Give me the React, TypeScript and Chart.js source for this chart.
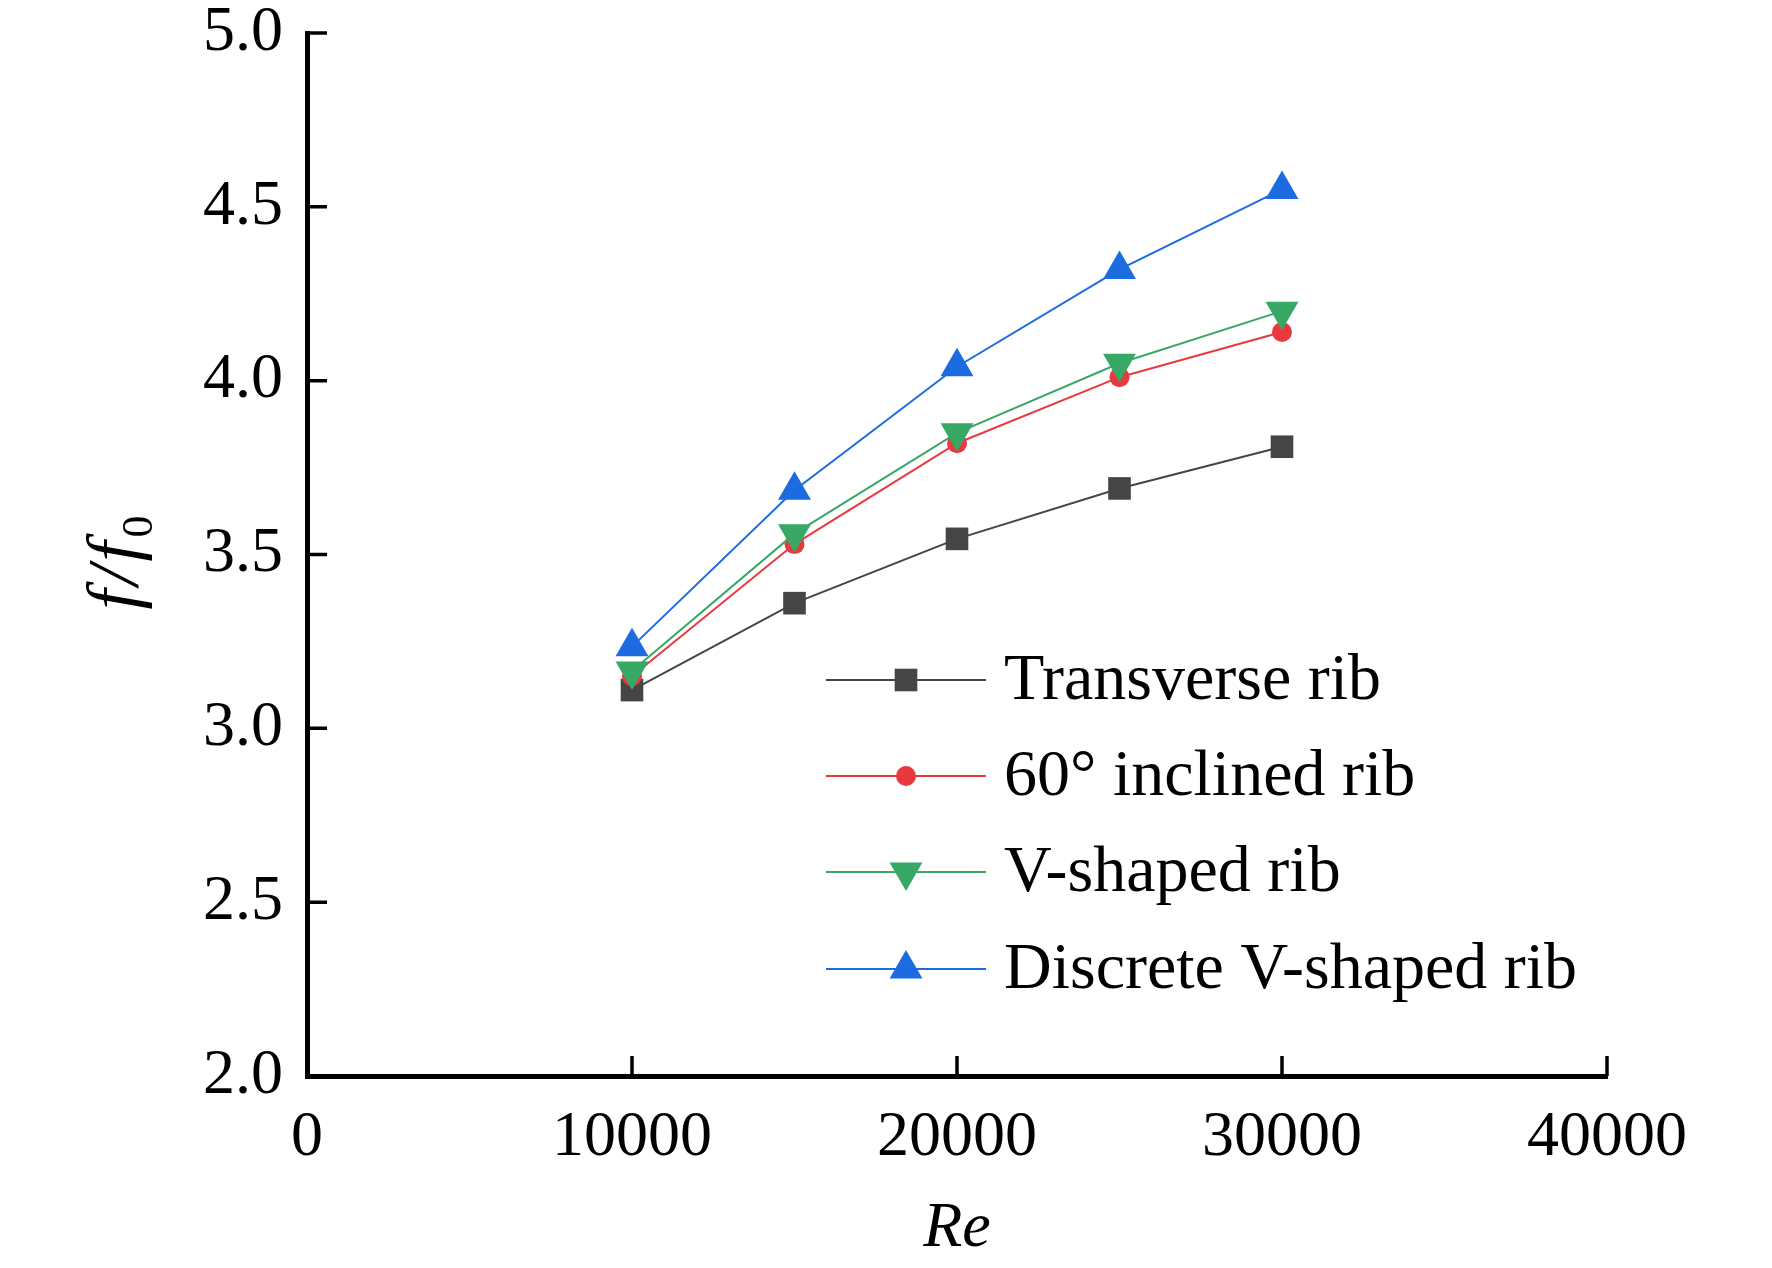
import { useEffect, useRef } from "react";
import { Chart, registerables } from "chart.js";

Chart.register(...registerables);

const SERIF = '"Liberation Serif", "Times New Roman", serif';

// data
const reynolds = [10000, 15000, 20000, 25000, 30000];
const transverse = [3.11, 3.36, 3.545, 3.69, 3.81];
const inclined60 = [3.15, 3.53, 3.82, 4.01, 4.14];
const vShaped = [3.165, 3.56, 3.85, 4.05, 4.2];
const discreteV = [3.235, 3.685, 4.04, 4.32, 4.55];

const seriesNames = [
  "Transverse rib",
  "60° inclined rib",
  "V-shaped rib",
  "Discrete V-shaped rib",
];
const xTickValues = [0, 10000, 20000, 30000, 40000];
const yTickValues = [2.0, 2.5, 3.0, 3.5, 4.0, 4.5, 5.0];

// styling per series
const colors = ["#454545", "#e8393f", "#38a865", "#1c6be0"];
const markers = ["rect", "circle", "triangle", "triangle"];
const markerRadius = [16, 10, 19, 19];
const markerRotation = [0, 0, 180, 0];

function drawMarker(
  ctx: CanvasRenderingContext2D,
  style: string,
  x: number,
  y: number,
  r: number,
  rot: number
) {
  ctx.beginPath();
  if (style === "rect") {
    const s = Math.SQRT1_2 * r;
    ctx.rect(x - s, y - s, 2 * s, 2 * s);
  } else if (style === "circle") {
    ctx.arc(x, y, r, 0, Math.PI * 2);
  } else {
    let a = (rot * Math.PI) / 180;
    for (let i = 0; i < 3; i++) {
      const px = x + Math.sin(a) * r;
      const py = y - Math.cos(a) * r;
      if (i === 0) ctx.moveTo(px, py);
      else ctx.lineTo(px, py);
      a += (2 * Math.PI) / 3;
    }
    ctx.closePath();
  }
  ctx.fill();
}

// inner tick marks, legend box and the y title with its subscript
const extras = {
  id: "extras",
  afterDraw(chart: Chart) {
    const ctx = chart.ctx;
    const area = chart.chartArea;
    const xs = chart.scales.x;
    const ys = chart.scales.y;
    ctx.save();

    ctx.strokeStyle = "#000";
    ctx.lineWidth = 3.5;
    ctx.beginPath();
    xs.ticks.forEach((t) => {
      const px = xs.getPixelForValue(t.value);
      if (px <= area.left + 2) return;
      ctx.moveTo(px, area.bottom);
      ctx.lineTo(px, area.bottom - 20);
    });
    ys.ticks.forEach((t) => {
      const py = ys.getPixelForValue(t.value);
      if (py >= area.bottom - 2) return;
      ctx.moveTo(area.left, py);
      ctx.lineTo(area.left + 20, py);
    });
    ctx.stroke();

    // legend
    const rowY = [680, 776, 872, 969];
    const lineX0 = 826;
    const lineX1 = 986;
    const textX = 1004;
    ctx.font = `66px ${SERIF}`;
    ctx.textBaseline = "middle";
    ctx.textAlign = "left";
    seriesNames.forEach((name, i) => {
      const y = rowY[i];
      ctx.strokeStyle = colors[i];
      ctx.lineWidth = 2;
      ctx.beginPath();
      ctx.moveTo(lineX0, y);
      ctx.lineTo(lineX1, y);
      ctx.stroke();
      ctx.fillStyle = colors[i];
      drawMarker(ctx, markers[i], (lineX0 + lineX1) / 2, y, markerRadius[i], markerRotation[i]);
      ctx.fillStyle = "#000";
      ctx.fillText(name, textX, y + 2);
    });

    // y axis title f/f0, drawn glyph by glyph so the subscript can drop
    ctx.translate(137, (area.top + area.bottom) / 2 + 6);
    ctx.rotate(-Math.PI / 2);
    ctx.textBaseline = "alphabetic";
    ctx.fillStyle = "#000";
    const mainFont = `italic 72px ${SERIF}`;
    const subFont = `44px ${SERIF}`;
    const parts = [
      { t: "f", font: mainFont, dy: 0 },
      { t: "/", font: mainFont, dy: 0 },
      { t: "f", font: mainFont, dy: 0 },
      { t: "0", font: subFont, dy: 15 },
    ];
    const gap = 4;
    let total = 0;
    parts.forEach((p) => {
      ctx.font = p.font;
      total += ctx.measureText(p.t).width + gap;
    });
    let cx = -total / 2;
    parts.forEach((p) => {
      ctx.font = p.font;
      ctx.fillText(p.t, cx, p.dy);
      cx += ctx.measureText(p.t).width + gap;
    });

    ctx.restore();
  },
};

export default function App() {
  const canvasRef = useRef<HTMLCanvasElement | null>(null);

  useEffect(() => {
    const canvas = canvasRef.current;
    if (!canvas) return;

    const allSeries = [transverse, inclined60, vShaped, discreteV];
    const chart = new Chart(canvas, {
      type: "line",
      data: {
        datasets: allSeries.map((vals, i) => ({
          label: seriesNames[i],
          data: reynolds.map((re, j) => ({ x: re, y: vals[j] })),
          borderColor: colors[i],
          backgroundColor: colors[i],
          borderWidth: 2,
          pointStyle: markers[i] as any,
          pointRadius: markerRadius[i],
          pointRotation: markerRotation[i],
          pointBorderWidth: 0,
          pointBackgroundColor: colors[i],
          order: 4 - i,
          tension: 0,
        })),
      },
      options: {
        animation: false,
        responsive: false,
        devicePixelRatio: 1,
        layout: { padding: { left: 0, top: 33, right: 165, bottom: 0 } },
        plugins: {
          legend: { display: false },
          tooltip: { enabled: false },
        },
        scales: {
          x: {
            type: "linear",
            min: 0,
            max: 40000,
            afterBuildTicks: (scale) => {
              scale.ticks = xTickValues.map((v) => ({ value: v }));
            },
            afterFit: (scale) => {
              scale.height = 1268 - 1076;
              scale.paddingLeft = 0;
              scale.paddingRight = 0;
            },
            grid: { display: false, drawTicks: false },
            border: { display: true, color: "#000", width: 5 },
            ticks: {
              color: "#000",
              padding: 24,
              maxRotation: 0,
              font: { family: SERIF, size: 64 },
              callback: (v) => String(v),
            },
            title: {
              display: true,
              text: "Re",
              color: "#000",
              padding: { top: 10, bottom: 0 },
              font: { family: SERIF, size: 64, style: "italic" },
            },
          },
          y: {
            type: "linear",
            min: 2,
            max: 5,
            afterBuildTicks: (scale) => {
              scale.ticks = yTickValues.map((v) => ({ value: v }));
            },
            afterFit: (scale) => {
              scale.width = 307;
              scale.paddingTop = 0;
              scale.paddingBottom = 0;
            },
            grid: { display: false, drawTicks: false },
            border: { display: true, color: "#000", width: 5 },
            ticks: {
              color: "#000",
              padding: 24,
              font: { family: SERIF, size: 64 },
              callback: (v) => Number(v).toFixed(1),
            },
          },
        },
      },
      plugins: [extras],
    });

    return () => {
      chart.destroy();
    };
  }, []);

  return (
    <div
      style={{
        position: "fixed",
        left: 0,
        top: 0,
        width: 1772,
        height: 1268,
        background: "#fff",
      }}
    >
      <canvas ref={canvasRef} width={1772} height={1268} />
    </div>
  );
}
